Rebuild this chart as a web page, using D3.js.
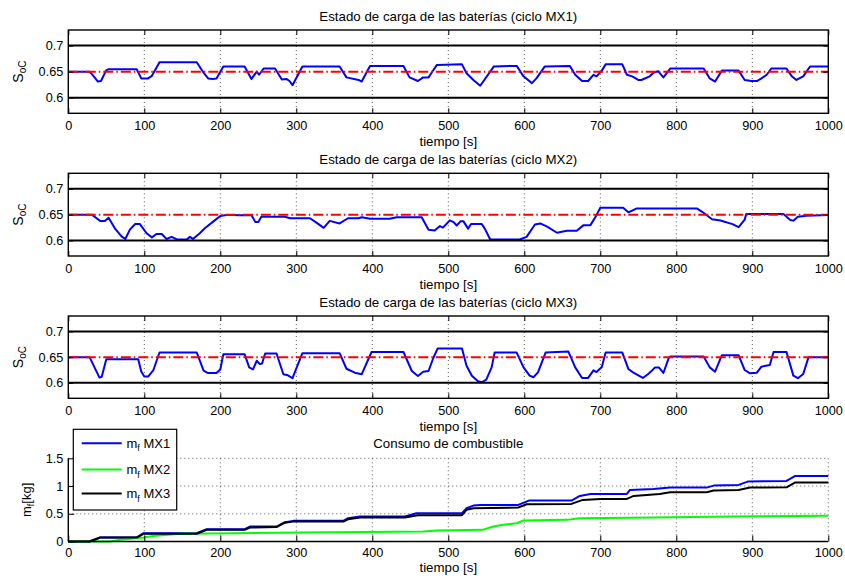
<!DOCTYPE html>
<html><head><meta charset="utf-8">
<script src="https://cdn.jsdelivr.net/npm/d3@7"></script>
<style>
body{margin:0;background:#fff}
text{font-family:"Liberation Sans",Arial,Helvetica,sans-serif;fill:#000}
</style>
</head><body>
<svg id="c" width="845" height="578"></svg>
<script>
// ---------------- DATA ----------------
const xTicks = [0,100,200,300,400,500,600,700,800,900,1000];
const socTicks = [0.6,0.65,0.7];
const socLimits = [0.6,0.7];
const socRef = [0.65];
const fuelTicks = [0,0.5,1,1.5];
const titles = [
  "Estado de carga de las baterías (ciclo MX1)",
  "Estado de carga de las baterías (ciclo MX2)",
  "Estado de carga de las baterías (ciclo MX3)",
  "Consumo de combustible"
];
const xLabel = "tiempo [s]";
const legendNames = ["MX1","MX2","MX3"];

const socMX1 = [[0,0.65],[28,0.65],[33,0.642],[39,0.631],[43,0.632],[50,0.653],[53,0.6545],[90,0.6545],[96,0.637],[105,0.637],[110,0.642],[120,0.668],[169,0.668],[178,0.648],[184,0.637],[190,0.636],[195,0.637],[204,0.66],[232,0.66],[241,0.636],[248,0.65],[251,0.644],[257,0.656],[272,0.656],[281,0.635],[287,0.636],[291,0.632],[295,0.624],[308,0.66],[357,0.66],[366,0.639],[382,0.634],[386,0.631],[397,0.661],[441,0.661],[449,0.639],[460,0.632],[467,0.639],[474,0.639],[478,0.648],[485,0.663],[518,0.664],[524,0.647],[533,0.634],[542,0.623],[560,0.66],[590,0.661],[599,0.641],[610,0.628],[616,0.637],[627,0.66],[660,0.661],[667,0.644],[676,0.632],[684,0.632],[691,0.644],[695,0.641],[702,0.652],[707,0.664],[729,0.664],[735,0.644],[742,0.641],[750,0.634],[754,0.634],[765,0.641],[770,0.648],[776,0.651],[783,0.639],[790,0.652],[792,0.656],[836,0.656],[844,0.637],[851,0.631],[860,0.652],[882,0.652],[890,0.634],[899,0.632],[906,0.632],[912,0.637],[919,0.644],[925,0.656],[945,0.656],[952,0.641],[958,0.634],[967,0.641],[976,0.66],[1000,0.66]];

const socMX2 = [[0,0.65],[31,0.65],[42,0.6377],[48,0.6377],[53,0.644],[61,0.624],[70,0.608],[75,0.603],[81,0.621],[88,0.632],[94,0.632],[103,0.614],[110,0.606],[116,0.6126],[123,0.6126],[129,0.603],[136,0.607],[143,0.602],[156,0.602],[160,0.607],[164,0.603],[173,0.614],[180,0.624],[191,0.637],[200,0.6474],[208,0.6494],[217,0.6494],[226,0.6487],[241,0.6494],[246,0.636],[250,0.636],[254,0.646],[285,0.646],[292,0.643],[318,0.643],[327,0.634],[336,0.6245],[344,0.638],[357,0.633],[368,0.643],[382,0.643],[386,0.645],[397,0.642],[423,0.642],[432,0.645],[465,0.645],[474,0.6206],[482,0.6193],[489,0.628],[493,0.625],[502,0.639],[507,0.6355],[511,0.629],[516,0.637],[520,0.637],[526,0.623],[530,0.632],[544,0.632],[548,0.623],[555,0.6025],[594,0.6019],[603,0.607],[614,0.631],[621,0.633],[630,0.627],[643,0.615],[656,0.6187],[669,0.6187],[678,0.6297],[687,0.6297],[695,0.649],[700,0.6635],[730,0.6635],[737,0.6545],[748,0.662],[827,0.662],[834,0.6555],[847,0.641],[858,0.6387],[874,0.6316],[882,0.6258],[890,0.6403],[892,0.6513],[941,0.6513],[950,0.6397],[954,0.6384],[960,0.646],[971,0.648],[1000,0.6494]];

const socMX3 = [[0,0.65],[28,0.65],[41,0.6103],[44,0.612],[50,0.646],[92,0.646],[96,0.6219],[100,0.6122],[105,0.6122],[112,0.625],[120,0.659],[169,0.659],[178,0.6237],[184,0.619],[195,0.619],[200,0.626],[204,0.6558],[232,0.6558],[238,0.6301],[243,0.6263],[248,0.643],[252,0.6365],[255,0.6378],[259,0.657],[274,0.657],[283,0.6167],[289,0.6147],[295,0.609],[308,0.6577],[357,0.6577],[366,0.6275],[377,0.6198],[386,0.6166],[399,0.66],[441,0.66],[452,0.6231],[460,0.6135],[467,0.6218],[474,0.6231],[480,0.6474],[486,0.667],[518,0.667],[524,0.6333],[531,0.614],[539,0.6031],[544,0.6012],[550,0.6064],[557,0.6301],[561,0.6589],[590,0.6589],[599,0.6301],[607,0.614],[612,0.6109],[618,0.6205],[628,0.6589],[658,0.6609],[667,0.6301],[676,0.6096],[684,0.6096],[691,0.6244],[695,0.6211],[702,0.6308],[707,0.6589],[729,0.6589],[737,0.6269],[743,0.6205],[756,0.6096],[763,0.6173],[767,0.6224],[772,0.6301],[777,0.6301],[783,0.6192],[790,0.6481],[792,0.6513],[836,0.6513],[844,0.6301],[851,0.6218],[860,0.6538],[882,0.6538],[890,0.625],[897,0.6186],[906,0.6199],[912,0.6314],[923,0.6346],[928,0.6602],[945,0.6602],[954,0.6141],[960,0.609],[967,0.6173],[974,0.65],[1000,0.65]];

const fuelMX1 = [[0,0],[28,0],[42,0.072],[90,0.072],[99,0.15],[169,0.15],[182,0.222],[232,0.222],[239,0.27],[274,0.27],[285,0.348],[296,0.372],[362,0.372],[368,0.42],[384,0.45],[443,0.45],[458,0.51],[518,0.51],[524,0.6],[533,0.648],[542,0.66],[592,0.66],[606,0.738],[662,0.738],[673,0.822],[687,0.858],[735,0.858],[739,0.93],[770,0.948],[792,0.972],[840,0.972],[849,1.008],[882,1.02],[894,1.08],[945,1.092],[956,1.18],[1000,1.18]];
const fuelMX2 = [[0,0],[55,0],[68,0.03],[99,0.072],[112,0.1],[147,0.138],[217,0.15],[305,0.162],[349,0.168],[467,0.18],[485,0.198],[545,0.21],[559,0.27],[572,0.3],[590,0.33],[599,0.378],[656,0.39],[673,0.42],[770,0.432],[871,0.45],[1000,0.462]];
const fuelMX3 = [[0,0],[28,0],[42,0.072],[90,0.072],[99,0.138],[169,0.14],[182,0.21],[232,0.21],[239,0.252],[274,0.26],[285,0.34],[296,0.36],[362,0.36],[368,0.4],[384,0.432],[443,0.432],[460,0.474],[518,0.474],[524,0.57],[533,0.6],[592,0.612],[603,0.672],[662,0.678],[677,0.75],[700,0.768],[735,0.768],[744,0.822],[778,0.858],[792,0.888],[840,0.888],[849,0.918],[882,0.93],[897,0.972],[945,0.978],[956,1.062],[1000,1.062]];

// ---------------- DRAW ----------------
const svg = d3.select('#c');
svg.append('rect').attr('width',845).attr('height',578).attr('fill','#fff');
const L = 68.3, R = 828.3, CX = (L+R)/2;
const x = d3.scaleLinear().domain([0,1000]).range([L,R]);
const gridCol = '#333';
const LABEL_FS = '13.3px';

function styleAxis(g){
  g.select('.domain').remove();
  g.selectAll('line').attr('stroke','#000').attr('stroke-width',1);
  g.selectAll('text').attr('font-size','12.7px').attr('font-family','"Liberation Sans",Arial,sans-serif');
}

function socPanel(top, bottom, data, title){
  const y = d3.scaleLinear().domain([0.57,0.73]).range([bottom, top]);
  const g = svg.append('g');
  g.selectAll(null).data(xTicks.slice(1,-1)).join('line')
    .attr('x1',d=>x(d)).attr('x2',d=>x(d)).attr('y1',top).attr('y2',bottom)
    .attr('stroke',gridCol).attr('stroke-width',0.8).attr('stroke-dasharray','1,3');
  g.append('path').datum(data)
    .attr('d', d3.line().x(d=>x(d[0])).y(d=>y(d[1])))
    .attr('fill','none').attr('stroke','#0000ff').attr('stroke-width',2).attr('stroke-linejoin','round');
  g.selectAll(null).data(socLimits).join('line')
    .attr('x1',L).attr('x2',R).attr('y1',d=>y(d)).attr('y2',d=>y(d))
    .attr('stroke','#000').attr('stroke-width',2);
  g.selectAll(null).data(socRef).join('line')
    .attr('x1',L).attr('x2',R).attr('y1',d=>y(d)).attr('y2',d=>y(d))
    .attr('stroke','#ff0000').attr('stroke-width',2).attr('stroke-dasharray','10,3,1.5,3');
  g.append('rect').attr('x',L).attr('y',top).attr('width',R-L).attr('height',bottom-top)
    .attr('fill','none').attr('stroke','#000').attr('stroke-width',1.4);
  g.append('g').attr('transform',`translate(0,${bottom})`)
    .call(d3.axisBottom(x).tickValues(xTicks).tickSize(-5).tickSizeOuter(0).tickPadding(8).tickFormat(d3.format('d')))
    .call(styleAxis);
  g.append('g').attr('transform',`translate(0,${top})`)
    .call(d3.axisTop(x).tickValues(xTicks).tickSize(-5).tickSizeOuter(0).tickFormat(''))
    .call(styleAxis);
  g.append('g').attr('transform',`translate(${L},0)`)
    .call(d3.axisLeft(y).tickValues(socTicks).tickSize(-5).tickSizeOuter(0).tickPadding(5).tickFormat(d3.format('~g')))
    .call(styleAxis);
  g.append('g').attr('transform',`translate(${R},0)`)
    .call(d3.axisRight(y).tickValues(socTicks).tickSize(-5).tickSizeOuter(0).tickFormat(''))
    .call(styleAxis);
  g.append('text').attr('x',CX).attr('y',top-9.5).attr('text-anchor','middle').attr('font-size',LABEL_FS).text(title);
  g.append('text').attr('x',CX).attr('y',bottom+32.5).attr('text-anchor','middle').attr('font-size',LABEL_FS).text(xLabel);
  const yl = g.append('text').attr('transform',`translate(23,${(top+bottom)/2}) rotate(-90)`).attr('text-anchor','middle');
  yl.append('tspan').attr('font-size','14px').text('S');
  yl.append('tspan').attr('font-size','10px').attr('dy',3).text('oC');
}

socPanel(30, 113.3, socMX1, titles[0]);
socPanel(173.3, 256, socMX2, titles[1]);
socPanel(316, 398.3, socMX3, titles[2]);

(function(){
  const top = 458.3, bottom = 541.5;
  const y = d3.scaleLinear().domain([0,1.5]).range([bottom, top]);
  const g = svg.append('g');
  g.selectAll(null).data(xTicks.slice(1)).join('line')
    .attr('x1',d=>x(d)).attr('x2',d=>x(d)).attr('y1',top).attr('y2',bottom)
    .attr('stroke',gridCol).attr('stroke-width',0.8).attr('stroke-dasharray','1,3');
  g.selectAll(null).data(fuelTicks.slice(1)).join('line')
    .attr('x1',L).attr('x2',R).attr('y1',d=>y(d)).attr('y2',d=>y(d))
    .attr('stroke',gridCol).attr('stroke-width',0.8).attr('stroke-dasharray','1,3');
  const line = d3.line().x(d=>x(d[0])).y(d=>y(d[1]));
  const series = [[fuelMX1,'#0000ff'],[fuelMX2,'#00ff00'],[fuelMX3,'#000000']];
  series.forEach(([s,c])=>{
    g.append('path').datum(s).attr('d',line).attr('fill','none').attr('stroke',c).attr('stroke-width',2).attr('stroke-linejoin','round');
  });
  g.append('g').attr('transform',`translate(0,${bottom})`)
    .call(d3.axisBottom(x).tickValues(xTicks).tickSize(-6).tickSizeOuter(0).tickPadding(6).tickFormat(d3.format('d')))
    .call(styleAxis);
  g.append('g').attr('transform',`translate(${L},0)`)
    .call(d3.axisLeft(y).tickValues(fuelTicks).tickSize(-6).tickSizeOuter(0).tickPadding(5).tickFormat(d3.format('~g')))
    .call(styleAxis);
  g.append('line').attr('x1',L).attr('x2',R).attr('y1',bottom).attr('y2',bottom).attr('stroke','#000').attr('stroke-width',1.4);
  g.append('line').attr('x1',L).attr('x2',L).attr('y1',top).attr('y2',bottom).attr('stroke','#000').attr('stroke-width',1.4);
  g.append('text').attr('x',CX).attr('y',top-10.5).attr('text-anchor','middle').attr('font-size',LABEL_FS).text(titles[3]);
  g.append('text').attr('x',CX).attr('y',572).attr('text-anchor','middle').attr('font-size',LABEL_FS).text(xLabel);
  const yl = g.append('text').attr('transform',`translate(31,${(top+bottom)/2}) rotate(-90)`).attr('text-anchor','middle').attr('font-size','13px');
  yl.append('tspan').text('m');
  yl.append('tspan').attr('font-size','9px').attr('dy',3).text('f');
  yl.append('tspan').attr('dy',-3).text('[kg]');

  const lg = g.append('g');
  lg.append('rect').attr('x',73.3).attr('y',429.3).attr('width',103.4).attr('height',80.7)
    .attr('fill','#fff').attr('stroke','#000').attr('stroke-width',1.2);
  const ly = [443.3, 469.5, 493.5];
  series.forEach(([s,c],i)=>{
    lg.append('line').attr('x1',81.7).attr('x2',121.7).attr('y1',ly[i]).attr('y2',ly[i]).attr('stroke',c).attr('stroke-width',2);
    const t = lg.append('text').attr('x',126.5).attr('y',ly[i]+4.5).attr('font-size','13px');
    t.append('tspan').text('m');
    t.append('tspan').attr('font-size','9px').attr('dy',3.5).text('f');
    t.append('tspan').attr('dy',-3.5).text(' '+legendNames[i]);
  });
})();
</script>
</body></html>
